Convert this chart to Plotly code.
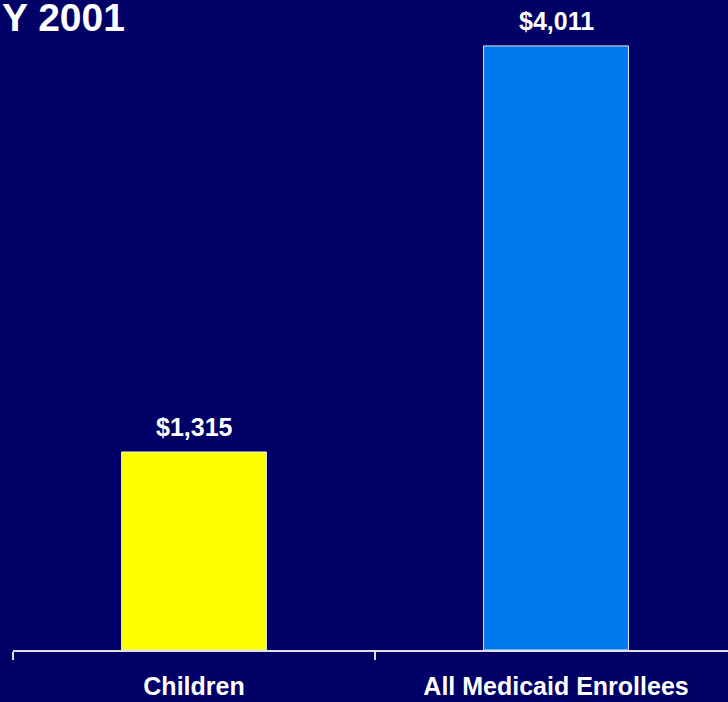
import plotly.graph_objects as go

categories = ["Children", "All Medicaid Enrollees"]
values = [1315, 4011]
value_labels = ["$1,315", "$4,011"]
bar_colors = ["#FFFF00", "#0078EE"]
title_text = "Y 2001"

BG = "#000066"
FONT = "Arial, Liberation Sans, sans-serif"

fig = go.Figure()
fig.add_trace(go.Bar(
    x=categories, y=values, width=0.4,
    marker=dict(color=bar_colors, line=dict(color="#E8E8E8", width=1)),
    hoverinfo="skip",
))

for c, v, t in zip(categories, values, value_labels):
    fig.add_annotation(x=c, y=v, text="<b>%s</b>" % t, showarrow=False,
                       yanchor="bottom", yshift=9,
                       font=dict(family=FONT, size=25, color="white"))

fig.add_annotation(xref="paper", yref="paper", x=0.0, y=1.0,
                   xanchor="left", yanchor="top", xshift=-13, yshift=6,
                   text="<b>%s</b>" % title_text, showarrow=False,
                   font=dict(family=FONT, size=39, color="white"))

fig.update_layout(
    width=728, height=702,
    margin=dict(l=13, r=0, t=0, b=52),
    paper_bgcolor=BG, plot_bgcolor=BG,
    showlegend=False,
    xaxis=dict(type="category", range=[-0.5, 1.475], tickson="boundaries",
               automargin=False,
               ticks="outside", ticklen=8, tickcolor="#E0E0E0", tickwidth=1.5,
               showline=True, linecolor="#E0E0E0", linewidth=1.5,
               showgrid=False, zeroline=False,
               tickfont=dict(family=FONT, size=25, color="white"),
               ticklabelstandoff=13,
               tickvals=categories, ticktext=["<b>%s</b>" % c for c in categories]),
    yaxis=dict(range=[0, 4316], visible=False, showgrid=False, zeroline=False),
)

fig.write_html("out.html")
